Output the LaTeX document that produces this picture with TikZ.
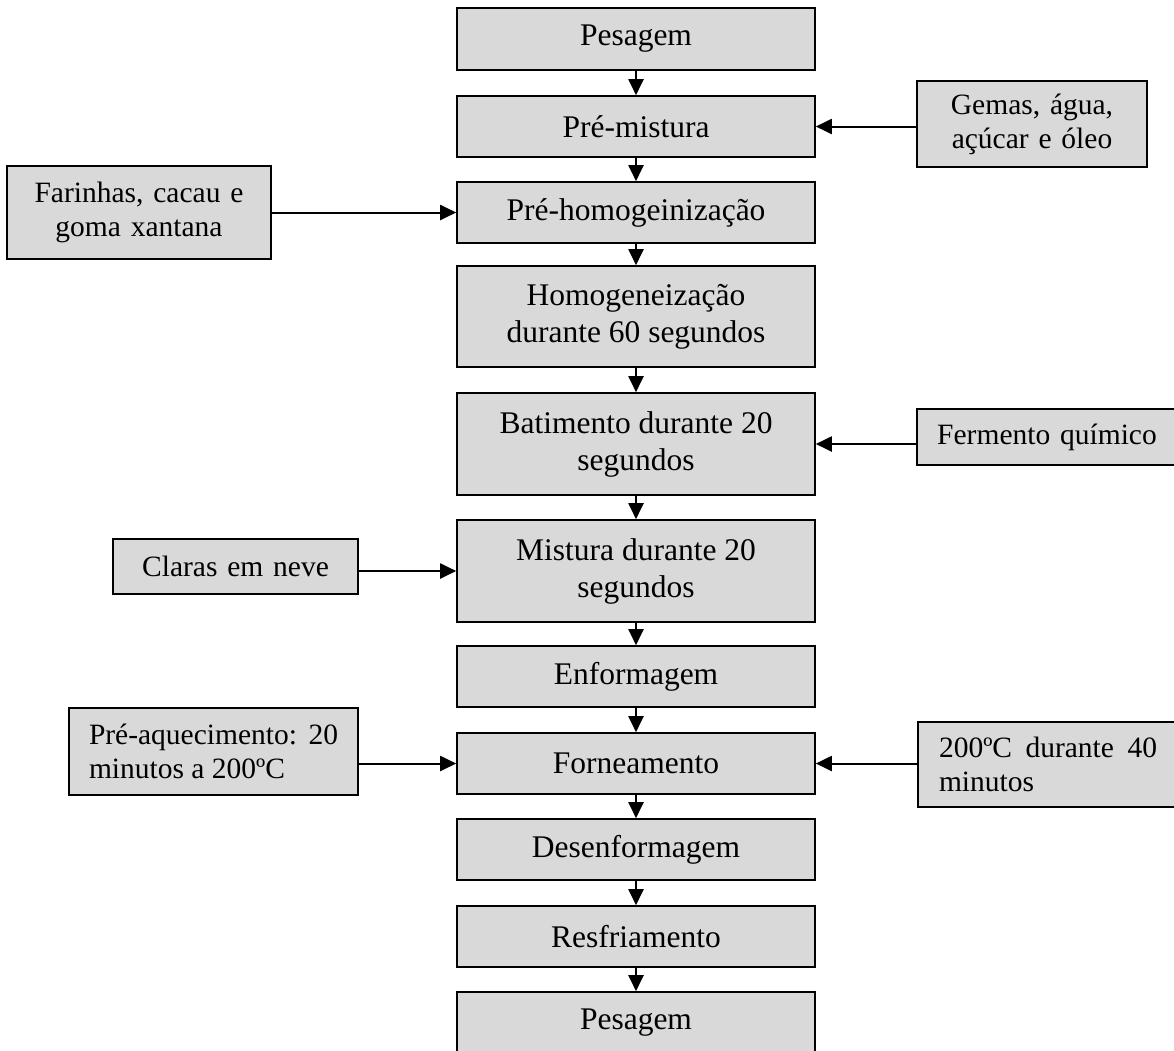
\documentclass[tikz,border=0pt]{standalone}
\usepackage{fontspec}
\setmainfont{Liberation Serif}
\usetikzlibrary{arrows.meta}
\definecolor{boxgray}{HTML}{D9D9D9}
\newcommand{\mainfs}{\fontsize{31.5}{37}\selectfont}
\newcommand{\sidefs}{\fontsize{29.5}{34}\selectfont}
\begin{document}
\begin{tikzpicture}[x=1pt,y=-1pt,
  box/.style={draw=black,line width=1.6pt,fill=boxgray,inner sep=0pt,minimum width=358pt,font=\mainfs,align=center},
  side/.style={draw=black,line width=1.6pt,fill=boxgray,inner xsep=20pt,inner ysep=0pt,font=\sidefs},
  arr/.style={line width=2pt,-{Triangle[length=16pt,width=15pt]}}
]
\useasboundingbox (0,0) rectangle (1174,1050);
\clip (0,0) rectangle (1174,1050);
% main column
\node[box,minimum height=62pt] (p1) at (636,39) {Pesagem};
\node[box,minimum height=61pt] (pm) at (636,126.5) {Pré-mistura};
\node[box,minimum height=61pt] (ph) at (636,212.5) {Pré-homogeinização};
\node[box,minimum height=101pt] (ho) at (636,316.5) {Homogeneização\\durante 60 segundos};
\node[box,minimum height=102pt] (ba) at (636,444) {Batimento durante 20\\segundos};
\node[box,minimum height=102pt] (mi) at (636,571) {Mistura durante 20\\segundos};
\node[box,minimum height=61pt] (en) at (636,676.5) {Enformagem};
\node[box,minimum height=61pt] (fo) at (636,763.5) {Forneamento};
\node[box,minimum height=61pt] (de) at (636,849.5) {Desenformagem};
\node[box,minimum height=61pt] (re) at (636,936.5) {Resfriamento};
\node[box,minimum height=61pt] (p2) at (636,1022.5) {Pesagem};
% side inputs
\node[side,text width=190pt,minimum height=86pt,align=center] (ge) at (1032,124) {Gemas, água,\\açúcar e óleo};
\node[side,text width=224pt,minimum height=93pt,align=center] (fa) at (139,212.5) {Farinhas, cacau e\\goma xantana};
\node[side,text width=220pt,minimum height=56pt,align=center] (fe) at (1047,437) {Fermento químico};
\node[side,text width=205pt,minimum height=55pt,align=center] (cl) at (235.5,566.5) {Claras em neve};
\node[side,text width=249pt,minimum height=87pt,align=justify] (pa) at (213.5,751.5) {Pré-aquecimento: 20\linebreak minutos a 200ºC};
\node[side,inner xsep=21pt,text width=218pt,minimum height=85pt,align=justify] (dc) at (1048,764.5) {200ºC durante 40\linebreak minutos};
% vertical flow
\draw[arr] (p1.south) -- (pm.north);
\draw[arr] (pm.south) -- (ph.north);
\draw[arr] (ph.south) -- (ho.north);
\draw[arr] (ho.south) -- (ba.north);
\draw[arr] (ba.south) -- (mi.north);
\draw[arr] (mi.south) -- (en.north);
\draw[arr] (en.south) -- (fo.north);
\draw[arr] (fo.south) -- (de.north);
\draw[arr] (de.south) -- (re.north);
\draw[arr] (re.south) -- (p2.north);
% side arrows
\draw[arr] (ge.west |- pm.east) -- (pm.east);
\draw[arr] (fa.east |- ph.west) -- (ph.west);
\draw[arr] (fe.west |- ba.east) -- (ba.east);
\draw[arr] (cl.east |- mi.west) -- (mi.west);
\draw[arr] (pa.east |- fo.west) -- (fo.west);
\draw[arr] (dc.west |- fo.east) -- (fo.east);
\end{tikzpicture}
\end{document}
